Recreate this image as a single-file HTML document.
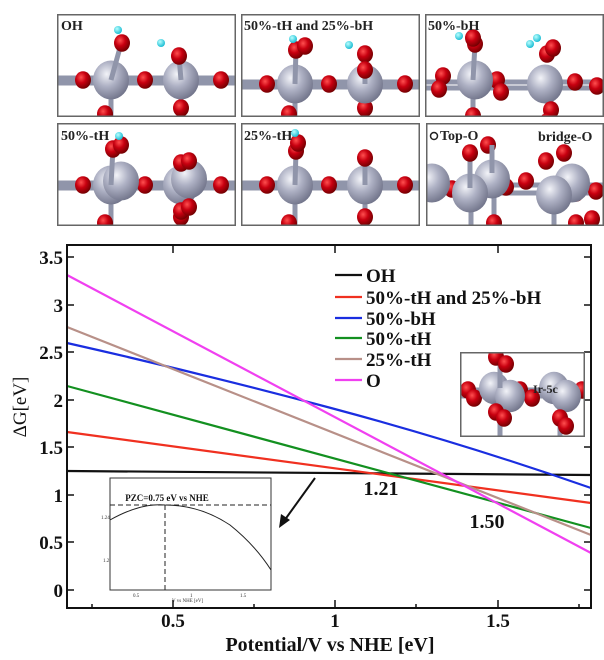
<!DOCTYPE html>
<html><head><meta charset="utf-8"><style>
html,body{margin:0;padding:0;background:#fff;}
svg{display:block;font-family:"Liberation Serif",serif;font-weight:bold;}
</style></head><body>
<svg id="s" width="604" height="660" viewBox="0 0 604 660" xmlns="http://www.w3.org/2000/svg">
<defs>
<radialGradient id="ir" cx="0.38" cy="0.35" r="0.7"><stop offset="0" stop-color="#f2f3f8"/><stop offset="0.45" stop-color="#aeb1c4"/><stop offset="1" stop-color="#6f7288"/></radialGradient>
<radialGradient id="ox" cx="0.38" cy="0.35" r="0.7"><stop offset="0" stop-color="#ff5050"/><stop offset="0.45" stop-color="#c80010"/><stop offset="1" stop-color="#6a0000"/></radialGradient>
<radialGradient id="hh" cx="0.38" cy="0.35" r="0.7"><stop offset="0" stop-color="#b8ffff"/><stop offset="1" stop-color="#10b8d0"/></radialGradient>
<clipPath id="c1"><rect x="0" y="0" width="179" height="102"/></clipPath>
<clipPath id="c2"><rect x="0" y="0" width="124" height="84"/></clipPath>
</defs>
<g id="panels"></g>
<g font-size="14" fill="#222">
<text x="61" y="30">OH</text>
<text x="244" y="30">50%-tH and 25%-bH</text>
<text x="428" y="30">50%-bH</text>
<text x="61" y="140">50%-tH</text>
<text x="244" y="140">25%-tH</text>
<text x="440" y="140">Top-O</text>
<text x="538" y="141">bridge-O</text>
</g>
<circle cx="434" cy="136" r="3.5" fill="none" stroke="#222" stroke-width="1.5"/>

<g fill="none" stroke-width="2.2">
<line x1="67" y1="471" x2="591" y2="475" stroke="#111"/>
<line x1="67" y1="432" x2="591" y2="503" stroke="#f03020"/>
<path d="M67,343 Q200,373 331,408 T591,488" stroke="#1a2ee0"/>
<line x1="67" y1="386" x2="591" y2="528" stroke="#139020"/>
<line x1="67" y1="327" x2="591" y2="535" stroke="#b89088"/>
<line x1="67" y1="275" x2="591" y2="553" stroke="#f040f0"/>
</g>
<rect x="67" y="245" width="524" height="363" fill="none" stroke="#111" stroke-width="2"/>
<g stroke="#111" stroke-width="1.5">
<line x1="67" y1="590" x2="74" y2="590"/><line x1="67" y1="542" x2="74" y2="542"/><line x1="67" y1="495" x2="74" y2="495"/><line x1="67" y1="447" x2="74" y2="447"/><line x1="67" y1="400" x2="74" y2="400"/><line x1="67" y1="352" x2="74" y2="352"/><line x1="67" y1="305" x2="74" y2="305"/><line x1="67" y1="257" x2="74" y2="257"/>
<line x1="591" y1="590" x2="584" y2="590"/><line x1="591" y1="542" x2="584" y2="542"/><line x1="591" y1="495" x2="584" y2="495"/><line x1="591" y1="447" x2="584" y2="447"/><line x1="591" y1="400" x2="584" y2="400"/><line x1="591" y1="352" x2="584" y2="352"/><line x1="591" y1="305" x2="584" y2="305"/><line x1="591" y1="257" x2="584" y2="257"/>
<line x1="173" y1="608" x2="173" y2="600"/><line x1="335" y1="608" x2="335" y2="600"/><line x1="498" y1="608" x2="498" y2="600"/>
<line x1="92" y1="608" x2="92" y2="604"/><line x1="254" y1="608" x2="254" y2="604"/><line x1="416" y1="608" x2="416" y2="604"/><line x1="579" y1="608" x2="579" y2="604"/>
<line x1="173" y1="245" x2="173" y2="253"/><line x1="335" y1="245" x2="335" y2="253"/><line x1="498" y1="245" x2="498" y2="253"/>
</g>
<g font-size="19" fill="#111" text-anchor="end">
<text x="63" y="264">3.5</text><text x="63" y="312">3</text><text x="63" y="359">2.5</text><text x="63" y="407">2</text><text x="63" y="454">1.5</text><text x="63" y="502">1</text><text x="63" y="549">0.5</text><text x="63" y="597">0</text>
</g>
<g font-size="19" fill="#111" text-anchor="middle">
<text x="173" y="627">0.5</text><text x="335" y="627">1</text><text x="498" y="627">1.5</text>
<text x="330" y="651" font-size="20">Potential/V vs NHE [eV]</text>
<text x="381" y="495" font-size="20">1.21</text>
<text x="487" y="528" font-size="20">1.50</text>
</g>
<text transform="translate(26,407) rotate(-90)" font-size="19" fill="#111" text-anchor="middle" font-weight="normal">ΔG[eV]</text>
<g stroke-width="2.2">
<line x1="335" y1="275" x2="362" y2="275" stroke="#111"/>
<line x1="335" y1="297" x2="362" y2="297" stroke="#f03020"/>
<line x1="335" y1="318" x2="362" y2="318" stroke="#1a2ee0"/>
<line x1="335" y1="338" x2="362" y2="338" stroke="#139020"/>
<line x1="335" y1="359" x2="362" y2="359" stroke="#b89088"/>
<line x1="335" y1="380" x2="362" y2="380" stroke="#f040f0"/>
</g>
<g font-size="19" fill="#111">
<text x="366" y="282">OH</text><text x="366" y="304">50%-tH and 25%-bH</text><text x="366" y="325">50%-bH</text><text x="366" y="345">50%-tH</text><text x="366" y="366">25%-tH</text><text x="366" y="387">O</text>
</g>
<rect x="110" y="478" width="161" height="112" fill="#fff" stroke="#333" stroke-width="1"/>
<path d="M110,520 Q140,503 165,505 Q200,505 230,525 Q255,545 271,570" fill="none" stroke="#222" stroke-width="1"/>
<line x1="110" y1="505" x2="271" y2="505" stroke="#222" stroke-dasharray="5,3"/>
<line x1="165" y1="505" x2="165" y2="590" stroke="#222" stroke-dasharray="5,3"/>
<text x="167" y="501" font-size="9" text-anchor="middle" fill="#111">PZC=0.75 eV vs NHE</text>
<g font-size="5" font-weight="normal" fill="#333"><text x="101" y="519">1.24</text><text x="103" y="562">1.2</text>
<text x="133" y="597">0.5</text><text x="190" y="597">1</text><text x="240" y="597">1.5</text><text x="172" y="602">V vs NHE [eV]</text></g>
<line x1="315" y1="478" x2="284" y2="521" stroke="#111" stroke-width="2"/>
<path d="M279,528 L281,514 L290,520 Z" fill="#111"/>
<g id="inset2"></g>
<text x="533" y="393" font-size="12" fill="#222">Ir-5c</text>
</svg>
<script>
var NS="http://www.w3.org/2000/svg";
function el(p,t,a){var e=document.createElementNS(NS,t);for(var k in a)e.setAttribute(k,a[k]);p.appendChild(e);return e;}
function panel(par,x,y,w,h,f,clip){var g=el(par,"g",{transform:"translate("+x+","+y+")"});
 el(g,"rect",{x:0,y:0,width:w,height:h,fill:"#fff"});
 var gi=el(g,"g",{"clip-path":"url(#"+clip+")"});
 function bond(a,b,c,d){el(gi,"line",{x1:a,y1:b,x2:c,y2:d,stroke:"#9095aa","stroke-width":5});}
 function ir(a,b,r){el(gi,"ellipse",{cx:a,cy:b,rx:r||18,ry:(r||18)*1.08,fill:"url(#ir)"});}
 function o(a,b,r){el(gi,"ellipse",{cx:a,cy:b,rx:r||8,ry:(r||8)*1.1,fill:"url(#ox)"});}
 function hy(a,b){el(gi,"circle",{cx:a,cy:b,r:4,fill:"url(#hh)"});}
 f(bond,ir,o,hy);
 el(g,"rect",{x:0.75,y:0.75,width:w-1.5,height:h-1.5,fill:"none",stroke:"#666","stroke-width":1.5});}
var P=document.getElementById("panels");
function base(yb,extraTop){return function(b,i,o,h){b(0,yb-2,179,yb-2);b(0,yb+3,179,yb+3);b(54,yb,54,103);b(124,yb,124,103);
 o(26,yb);o(88,yb);o(164,yb);o(48,100);o(124,94);i(54,yb);i(124,yb);extraTop(b,i,o,h);};}
panel(P,57,14,179,103,base(66,function(b,i,o,h){b(54,66,64,30);o(65,29);h(61,16);b(124,66,122,42);o(122,42);h(104,29);}),"c1");
panel(P,241,14,179,103,base(70,function(b,i,o,h){b(54,70,55,35);o(55,36);o(64,32);h(52,25);b(124,70,124,45);o(124,40);o(124,56);h(108,31);}),"c1");
panel(P,425,14,179,103,function(b,i,o,h){b(0,68,179,68);b(0,74,179,74);b(48,70,48,103);b(126,70,126,103);
 o(18,62);o(14,75);o(72,66);o(76,78);o(150,68);o(172,72);i(50,66);i(120,70);o(48,102);o(126,96);o(122,108);
 b(48,66,50,30);o(50,30);o(48,24);h(34,22);o(122,40);o(128,34);h(105,30);h(112,24);},"c1");
panel(P,57,123,179,103,base(62,function(b,i,o,h){i(64,58);i(132,56);b(54,62,56,25);o(56,26);o(64,22);h(62,13);o(124,40);o(132,38);o(124,88);o(132,84);}),"c1");
panel(P,241,123,179,103,base(62,function(b,i,o,h){b(54,62,55,28);o(55,28);o(57,20);h(54,10);b(124,62,124,38);o(124,35);}),"c1");
panel(P,426,123,178,103,function(b,i,o,h){b(0,62,178,62);b(0,70,178,70);b(45,70,45,103);b(68,60,68,103);b(128,70,128,103);
 o(26,66);o(80,64);o(100,58);o(150,70);o(170,68);o(150,100);o(166,96);o(68,100);
 i(6,60);i(66,56);i(44,70);i(146,60);i(128,72);b(44,65,44,30);o(44,30);o(62,22);b(66,50,66,22);o(120,38);o(138,30);},"c1");
panel(document.getElementById("inset2"),460,352,125,85,function(b,i,o,h){b(0,38,125,38);b(0,44,125,44);b(40,40,40,85);b(100,40,100,85);
 o(8,38);o(14,46);o(60,38);o(72,46);o(122,38);i(34,36,15);i(50,44,15);i(94,36,15);i(106,44,15);b(40,36,40,5);o(36,5);o(46,12);o(36,60);o(44,66);o(100,66);o(106,74);},"c2");
</script>
</body></html>
